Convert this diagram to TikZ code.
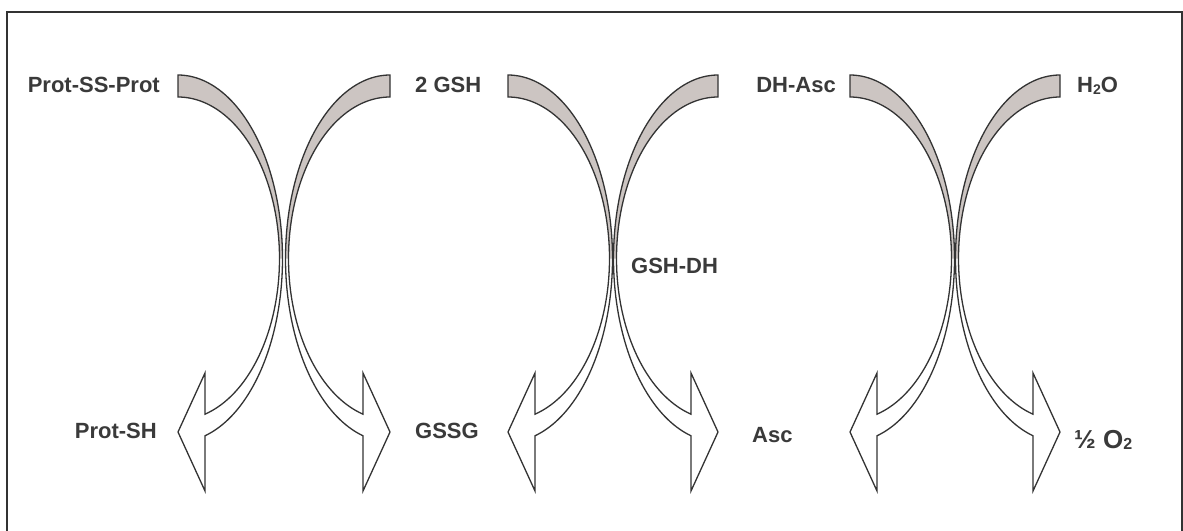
\documentclass[tikz,border=0pt]{standalone}
\usepackage{fontspec}
\setmainfont{Liberation Sans}
\definecolor{inkc}{HTML}{333333}
\definecolor{txtc}{HTML}{3A3A3A}
\definecolor{bandc}{HTML}{CCC5C2}
\newcommand\cyy{258.5}
\newcommand\Rout{183.5}
\newcommand\rout{104.5}
\newcommand\Rin{161.5}
\newcommand\rin{101.5}
\newcommand\headx{27}
\newcommand\fullshape{%
  plot[domain=-90:\tOut, samples=80, smooth, variable=\t] ({\rout*cos(\t)},{\cyy+\Rout*sin(\t)})
  -- (\headx,491) -- (0,432) -- (\headx,373)
  -- plot[domain=\tIn:-90, samples=80, smooth, variable=\t] ({\rin*cos(\t)},{\cyy+\Rin*sin(\t)})
  -- cycle}
\newcommand\bentarrow[2]{%
  \begin{scope}[shift={(#1,0)}, xscale=#2]
    \pgfmathsetmacro{\tOut}{acos(\headx/\rout)}
    \pgfmathsetmacro{\tIn}{acos(\headx/\rin)}
    \fill[white] \fullshape;
    \fill[bandc] plot[domain=-90:0, samples=60, smooth, variable=\t] ({\rout*cos(\t)},{\cyy+\Rout*sin(\t)})
      -- plot[domain=0:-90, samples=60, smooth, variable=\t] ({\rin*cos(\t)},{\cyy+\Rin*sin(\t)}) -- cycle;
    \draw[arrline] \fullshape;
  \end{scope}}
\begin{document}
\begin{tikzpicture}[x=1pt,y=-1pt,
  arrline/.style={draw=inkc, line width=1.3pt, line join=miter},
  frameline/.style={draw=inkc, line width=2pt},
  lbl/.style={inner sep=0pt, text=txtc, font=\fontsize{22}{26}\selectfont\bfseries}]
\useasboundingbox (0,0) rectangle (1183,530);
\fill[white] (0,0) rectangle (1183,530);
\draw[frameline] (7,545) -- (7,12) -- (1182,12) -- (1182,545);

\bentarrow{178}{1}
\bentarrow{390}{-1}
\bentarrow{508}{1}
\bentarrow{718}{-1}
\bentarrow{850}{1}
\bentarrow{1060}{-1}

\node[lbl, anchor=base east] (pssp) at (160,92) {Prot-SS-Prot};
\node[lbl, anchor=base west] (gsh) at (415,92) {2 GSH};
\node[lbl, anchor=base east] (dhasc) at (836,92) {DH-Asc};
\node[lbl, anchor=base west] (water) at (1077,92) {H\raisebox{-2pt}{\fontsize{14}{14}\selectfont 2}O};
\node[lbl, anchor=base east] (psh) at (157,438) {Prot-SH};
\node[lbl, anchor=base west] (gssg) at (415,438) {GSSG};
\node[lbl, anchor=base west] (asc) at (752,442) {Asc};
\node[lbl, anchor=base west] (oxy) at (1074,448) {\fontsize{26}{28}\selectfont ½ O\raisebox{-1pt}{\fontsize{16}{16}\selectfont 2}};
\node[lbl, anchor=base west] (gshdh) at (631,273) {GSH-DH};
\end{tikzpicture}
\end{document}
